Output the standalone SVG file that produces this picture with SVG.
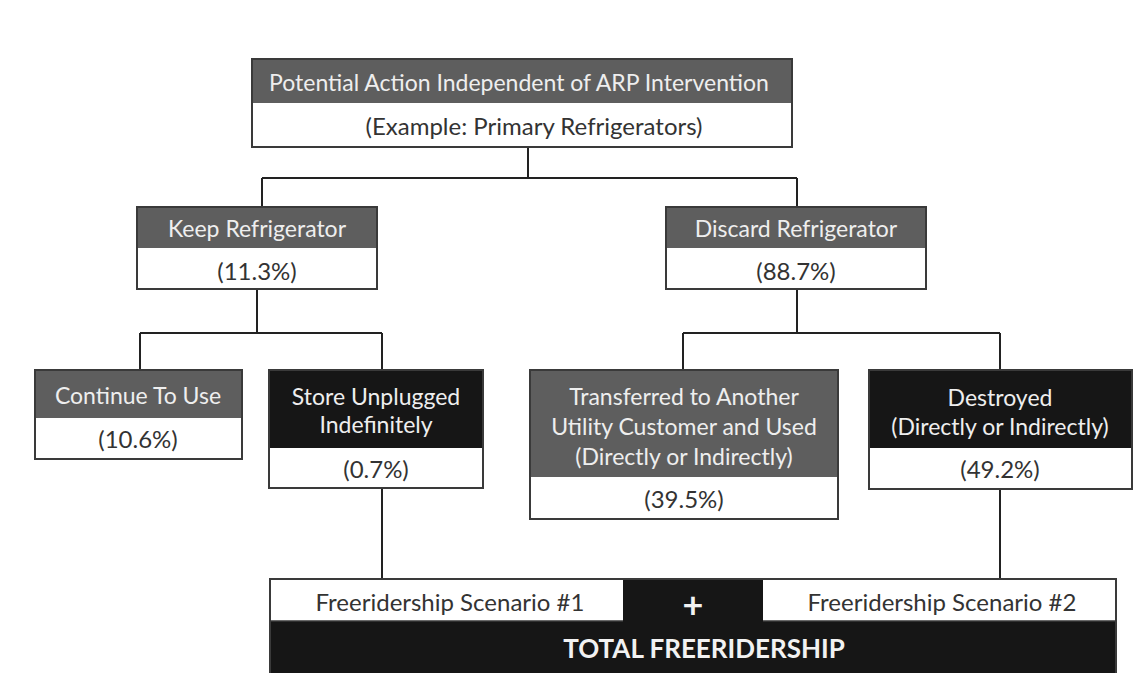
<svg xmlns="http://www.w3.org/2000/svg" width="1138" height="673" viewBox="0 0 1138 673">
<style>
text{font-family:"Lato","Open Sans","Liberation Sans",sans-serif;font-size:23px;text-anchor:middle;dominant-baseline:central}
.hd{fill:#eeeeee}
.pc{fill:#333333;font-size:24px}
.gray{fill:#5e5e5e}
.blk{fill:#161616}
.wht{fill:#ffffff}
.frame{fill:none;stroke:#3a3a3a;stroke-width:2}
.conn{fill:none;stroke:#222222;stroke-width:2}
.bold{font-weight:bold;font-size:26px;fill:#f2f2f2}
</style>
<rect width="1138" height="673" fill="#ffffff"/>
<g id="connectors">
<path class="conn" d="M528 147V178M262 178H797M262 178V207M797 178V207"/>
<path class="conn" d="M257 289V333M140 333H382M140 333V370M382 333V370"/>
<path class="conn" d="M797 289V333M683 333H1000M683 333V370M1000 333V370"/>
<path class="conn" d="M382 488V579M1000 488V579"/>
</g>
<g id="root">
<rect class="gray" x="252" y="59" width="540" height="44"/>
<rect class="wht" x="252" y="103" width="540" height="44"/>
<rect class="frame" x="252" y="59" width="540" height="88"/>
<text class="hd" x="519" y="82">Potential Action Independent of ARP Intervention</text>
<text class="pc" x="534" y="125">(Example: Primary Refrigerators)</text>
</g>
<g id="keep">
<rect class="gray" x="137" y="207" width="240" height="41"/>
<rect class="wht" x="137" y="248" width="240" height="41"/>
<rect class="frame" x="137" y="207" width="240" height="82"/>
<text class="hd" x="257" y="228">Keep Refrigerator</text>
<text class="pc" x="257" y="270">(11.3%)</text>
</g>
<g id="discard">
<rect class="gray" x="666" y="207" width="260" height="41"/>
<rect class="wht" x="666" y="248" width="260" height="41"/>
<rect class="frame" x="666" y="207" width="260" height="82"/>
<text class="hd" x="796" y="228">Discard Refrigerator</text>
<text class="pc" x="796" y="270">(88.7%)</text>
</g>
<g id="continue">
<rect class="gray" x="35" y="370" width="207" height="48"/>
<rect class="wht" x="35" y="418" width="207" height="41"/>
<rect class="frame" x="35" y="370" width="207" height="89"/>
<text class="hd" x="138" y="395">Continue To Use</text>
<text class="pc" x="138" y="438">(10.6%)</text>
</g>
<g id="store">
<rect class="blk" x="269" y="370" width="214" height="78"/>
<rect class="wht" x="269" y="448" width="214" height="40"/>
<rect class="frame" x="269" y="370" width="214" height="118"/>
<text class="hd" x="376" y="396">Store Unplugged</text>
<text class="hd" x="376" y="424">Indefinitely</text>
<text class="pc" x="376" y="468">(0.7%)</text>
</g>
<g id="transferred">
<rect class="gray" x="530" y="370" width="308" height="107"/>
<rect class="wht" x="530" y="477" width="308" height="42"/>
<rect class="frame" x="530" y="370" width="308" height="149"/>
<text class="hd" x="684" y="396">Transferred to Another</text>
<text class="hd" x="684" y="426">Utility Customer and Used</text>
<text class="hd" x="684" y="456">(Directly or Indirectly)</text>
<text class="pc" x="684" y="498">(39.5%)</text>
</g>
<g id="destroyed">
<rect class="blk" x="869" y="370" width="263" height="78"/>
<rect class="wht" x="869" y="448" width="263" height="41"/>
<rect class="frame" x="869" y="370" width="263" height="119"/>
<text class="hd" x="1000" y="397">Destroyed</text>
<text class="hd" x="1000" y="426">(Directly or Indirectly)</text>
<text class="pc" x="1000" y="468">(49.2%)</text>
</g>
<g id="total">
<rect class="blk" x="270" y="579" width="846" height="100"/>
<rect class="wht" x="270" y="579" width="353" height="42"/>
<rect class="wht" x="763" y="579" width="353" height="42"/>
<path class="frame" d="M270 673V579H1116V673"/>
<path d="M270 621H623M763 621H1116" stroke="#3a3a3a" stroke-width="1.5"/>
<text class="pc" x="450" y="601">Freeridership Scenario #1</text>
<text class="bold" x="693" y="604" style="font-size:36px;font-weight:bold">+</text>
<text class="pc" x="942" y="601">Freeridership Scenario #2</text>
<text class="bold" x="704" y="648">TOTAL FREERIDERSHIP</text>
</g>
</svg>
